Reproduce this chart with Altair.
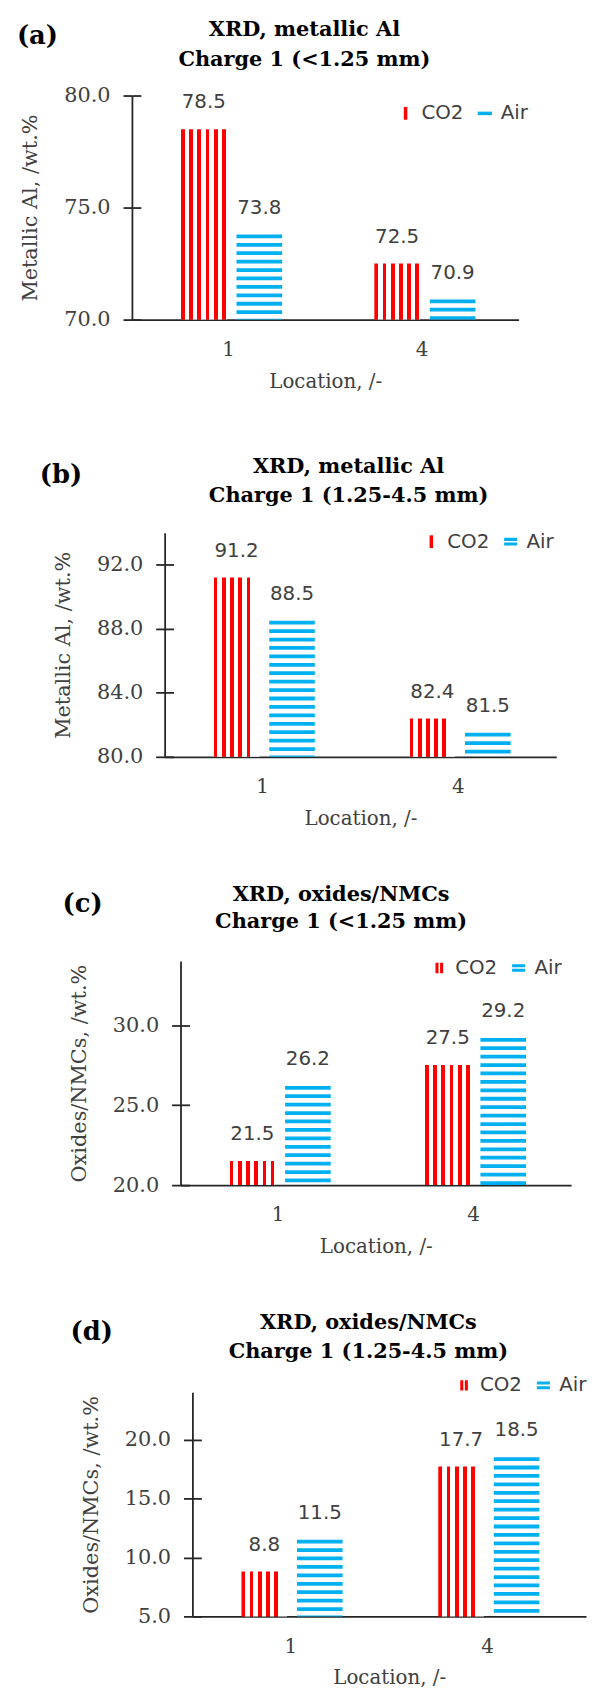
import altair as alt
import pandas as pd

# ---------------- data ----------------
LOCATIONS = ["1", "4"]
SERIES = ["CO2", "Air"]
PANEL_TAGS = ["(a)", "(b)", "(c)", "(d)"]
TITLE_LINE1 = ["XRD, metallic Al", "XRD, metallic Al", "XRD, oxides/NMCs", "XRD, oxides/NMCs"]
TITLE_LINE2 = ["Charge 1 (<1.25 mm)", "Charge 1 (1.25-4.5 mm)", "Charge 1 (<1.25 mm)", "Charge 1 (1.25-4.5 mm)"]
Y_TITLES = ["Metallic Al, /wt.%", "Metallic Al, /wt.%", "Oxides/NMCs, /wt.%", "Oxides/NMCs, /wt.%"]
X_TITLE = "Location, /-"
CO2_VALUES = [[78.5, 72.5], [91.2, 82.4], [21.5, 27.5], [8.8, 17.7]]
AIR_VALUES = [[73.8, 70.9], [88.5, 81.5], [26.2, 29.2], [11.5, 18.5]]
Y_MIN = [70.0, 80.0, 20.0, 5.0]
Y_MAX = [80.0, 94.0, 34.0, 24.0]
Y_TICKS = [[70, 75, 80], [80, 84, 88, 92], [20, 25, 30], [5, 10, 15, 20]]

# ---------------- style ----------------
RED = "#FF0000"
BLUE = "#00B0F0"
AXIS_COLOR = "#262626"
TEXT_COLOR = "#404040"
SERIF = "DejaVu Serif"
SANS = "DejaVu Sans"
PLOT_W = [390, 395, 394, 397]
PLOT_H = 226
SPACER_W = [9, 32, 55, 63]
PAD_TOP = 4
VSPACE_AB = 66
VSPACE_BC = 56
VSPACE_CD = 56
BAR_W = 46
BAR_GAP = 10
BAR_SHIFT = [3, 2, 0, 3]
CO2_LINES = [6, 5, 6, 5]
STRIPE_PITCH = 8.3
STRIPE_RED = 3.8
AIR_DASH = [3.8, 4.7]
TITLE_SIZE = 21
TITLE_DX = [-21, -12, -35, -21]
TITLE_Y1 = [-66, -66, -67, -70]
TITLE_Y2 = [-36, -37, -39, -41]
TAG_POS = [(-116, -60), (-126, -58), (-119, -57), (-123, -61)]
LEGEND_POS = [(266, 8), (259, -1), (251, -3), (264, -17)]
SYM_V1 = "M-0.22,-0.8H0.22V0.8H-0.22Z"
SYM_V2 = "M-0.48,-0.65H-0.1V0.65H-0.48Z M0.1,-0.65H0.48V0.65H0.1Z"
SYM_H1 = "M-0.9,-0.22H0.9V0.22H-0.9Z"
SYM_H2 = "M-0.82,-0.48H0.82V-0.1H-0.82Z M-0.82,0.1H0.82V0.48H-0.82Z"
CO2_SYMBOL = [SYM_V1, SYM_V1, SYM_V2, SYM_V2]
AIR_SYMBOL = [SYM_H1, SYM_H2, SYM_H2, SYM_H2]


def co2_gradient(n_lines):
    stops = []
    for k in range(n_lines):
        a = k * STRIPE_PITCH / BAR_W
        b = min(1.0, (k * STRIPE_PITCH + STRIPE_RED) / BAR_W)
        stops += [
            {"offset": a, "color": "white"},
            {"offset": a, "color": RED},
            {"offset": b, "color": RED},
            {"offset": b, "color": "white"},
        ]
    stops.append({"offset": 1.0, "color": "white"})
    return {"gradient": "linear", "x1": 0, "y1": 0, "x2": 1, "y2": 0, "stops": stops}


def text_layer(txt, x, y, **kw):
    return alt.Chart(pd.DataFrame({"t": [txt]})).mark_text(**kw).encode(
        x=alt.value(x), y=alt.value(y), text="t:N"
    )


def make_panel(i):
    df = pd.DataFrame({
        "Location": LOCATIONS * 2,
        "Series": [SERIES[0]] * len(LOCATIONS) + [SERIES[1]] * len(LOCATIONS),
        "Value": CO2_VALUES[i] + AIR_VALUES[i],
    })
    W = PLOT_W[i]
    band = W / len(LOCATIONS)
    step = BAR_W + BAR_GAP
    p_inner = BAR_GAP / step
    p_outer = (band / step - 2 + p_inner) / 2
    align = 0.5 + BAR_SHIFT[i] / (2 * p_outer * step)

    x_enc = alt.X(
        "Location:N", sort=LOCATIONS,
        scale=alt.Scale(domain=LOCATIONS, paddingInner=0, paddingOuter=0),
        axis=alt.Axis(
            title=X_TITLE, labelAngle=0, ticks=False, grid=False,
            domainColor=AXIS_COLOR, domainWidth=1.8,
            labelFont=SERIF, labelFontSize=20, labelColor=TEXT_COLOR, labelPadding=20,
            titleFont=SERIF, titleFontSize=20, titleFontWeight="normal",
            titleColor=TEXT_COLOR, titlePadding=12,
        ),
    )
    xo_enc = alt.XOffset(
        "Series:N", sort=SERIES,
        scale=alt.Scale(domain=SERIES, paddingInner=p_inner, paddingOuter=p_outer,
                        align=align),
    )
    y_scale = alt.Scale(domain=[Y_MIN[i], Y_MAX[i]], zero=False, nice=False)
    y_main = alt.Y(
        "Value:Q", scale=y_scale,
        axis=alt.Axis(
            values=Y_TICKS[i], format=".1f", grid=False,
            tickSize=9, tickColor=AXIS_COLOR, tickWidth=1.8,
            domainColor=AXIS_COLOR, domainWidth=1.8,
            labelFont=SERIF, labelFontSize=21, labelColor=TEXT_COLOR, labelPadding=13,
            title=Y_TITLES[i], titleFont=SERIF, titleFontSize=21,
            titleFontWeight="normal", titleColor=TEXT_COLOR, titlePadding=23,
        ),
    )
    y_plain = alt.Y("Value:Q", scale=y_scale, axis=None)
    y_inner = alt.Y(
        "Value:Q", scale=y_scale,
        axis=alt.Axis(
            orient="right", offset=-W, values=Y_TICKS[i], labels=False,
            domain=False, ticks=True, tickSize=9, tickColor=AXIS_COLOR,
            tickWidth=1.8, grid=False, title=None,
        ),
    )

    base = alt.Chart(df).encode(x=x_enc, xOffset=xo_enc)

    bars = base.transform_filter(alt.datum.Series == SERIES[0]).mark_bar(
        fill=co2_gradient(CO2_LINES[i])
    ).encode(y=y_main, y2=alt.datum(Y_MIN[i]))

    rules = base.transform_filter(alt.datum.Series == SERIES[1]).mark_rule(
        color=BLUE, strokeWidth=BAR_W, strokeDash=AIR_DASH, strokeCap="butt"
    ).encode(y=y_plain, y2=alt.datum(Y_MIN[i]))

    labels = base.mark_text(
        font=SANS, fontSize=20, color=TEXT_COLOR, baseline="middle", dy=-27
    ).encode(y=y_plain, text=alt.Text("Value:Q", format=".1f"))

    legend_kw = dict(
        title=None, orient="none", legendX=LEGEND_POS[i][0], legendY=LEGEND_POS[i][1],
        direction="horizontal", symbolSize=256, symbolOpacity=1, symbolStrokeWidth=0,
        labelFont=SANS, labelFontSize=20, labelColor=TEXT_COLOR, labelOffset=6,
        columnPadding=11, padding=0,
    )
    legend_layer = base.mark_point(filled=True, opacity=0).encode(
        y=y_inner,
        color=alt.Color("Series:N", sort=SERIES,
                        scale=alt.Scale(domain=SERIES, range=[RED, BLUE]),
                        legend=alt.Legend(**legend_kw)),
        shape=alt.Shape("Series:N", sort=SERIES,
                        scale=alt.Scale(domain=SERIES, range=[CO2_SYMBOL[i], AIR_SYMBOL[i]]),
                        legend=alt.Legend(**legend_kw)),
    )

    title_kw = dict(font=SERIF, fontSize=TITLE_SIZE, fontWeight="bold", color="black",
                    align="center", baseline="middle")
    title1 = text_layer(TITLE_LINE1[i], W / 2 + TITLE_DX[i], TITLE_Y1[i], **title_kw)
    title2 = text_layer(TITLE_LINE2[i], W / 2 + TITLE_DX[i], TITLE_Y2[i], **title_kw)
    tag = text_layer(PANEL_TAGS[i], TAG_POS[i][0], TAG_POS[i][1], font=SERIF,
                     fontSize=26, fontWeight="bold", color="black",
                     align="left", baseline="middle")

    return alt.layer(bars, rules, labels, legend_layer, title1, title2, tag).resolve_axis(
        y="independent"
    ).properties(width=W, height=PLOT_H)


def independent(c):
    return c.resolve_scale(color="independent", shape="independent").resolve_legend(
        color="independent", shape="independent")


rows = []
for i in range(4):
    spacer = alt.Chart(pd.DataFrame({"s": [""]})).mark_text().encode(
        text="s:N"
    ).properties(width=SPACER_W[i], height=1)
    rows.append(independent(alt.hconcat(spacer, make_panel(i), spacing=0)))

top_pair = independent(alt.vconcat(rows[0], rows[1], spacing=VSPACE_AB))
bottom_pair = independent(alt.vconcat(rows[2], rows[3], spacing=VSPACE_CD))

chart = independent(alt.vconcat(top_pair, bottom_pair, spacing=VSPACE_BC)).properties(
    padding={"left": 0, "top": PAD_TOP, "right": 0, "bottom": 0},
    background="white",
).configure_view(stroke=None)

chart.save("out.html", embed_options={"renderer": "svg", "actions": False})
